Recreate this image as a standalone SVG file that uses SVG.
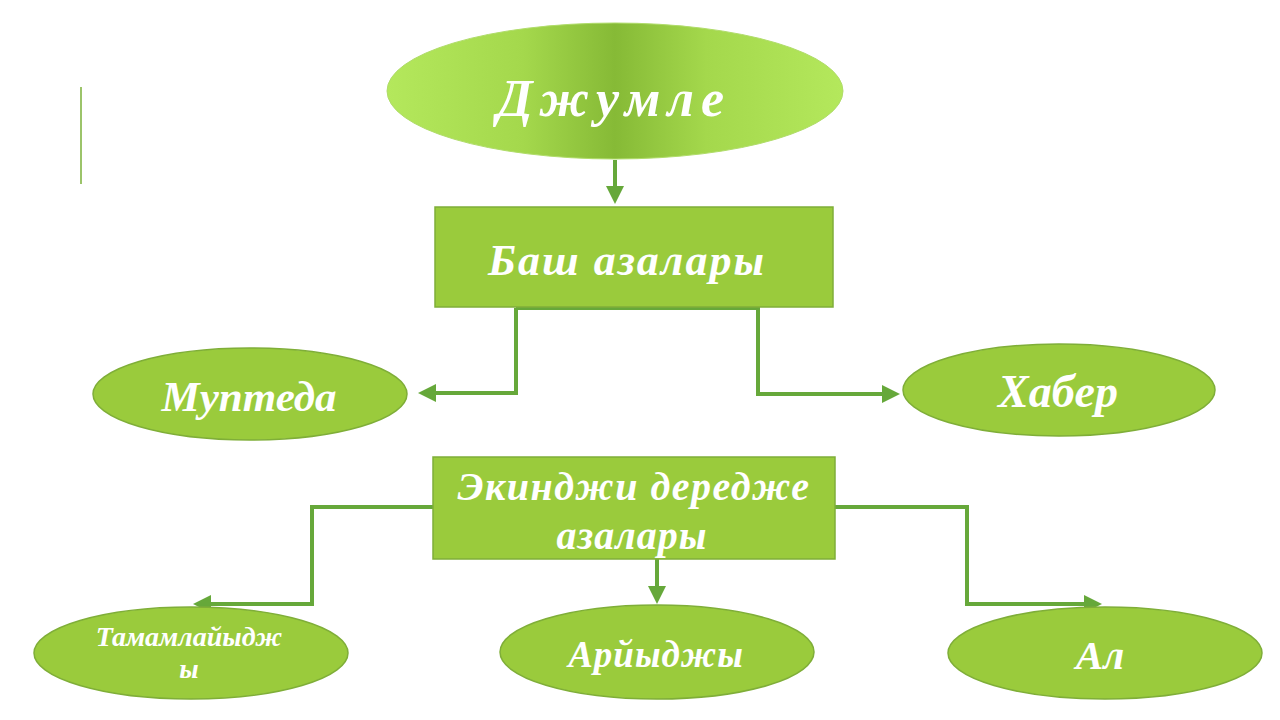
<svg xmlns="http://www.w3.org/2000/svg" width="1280" height="720" viewBox="0 0 1280 720">
<defs>
<linearGradient id="g1" x1="0" y1="0" x2="1" y2="0">
<stop offset="0" stop-color="#b4e85c"/>
<stop offset="0.3" stop-color="#a4d84c"/>
<stop offset="0.5" stop-color="#86ba36"/>
<stop offset="0.7" stop-color="#a4d84c"/>
<stop offset="1" stop-color="#b4e85c"/>
</linearGradient>
<marker id="ah" markerWidth="4.5" markerHeight="4.5" refX="3.5" refY="2.25" orient="auto" markerUnits="strokeWidth">
<path d="M0,0 L4.5,2.25 L0,4.5 z" fill="#66a83a"/>
</marker>
</defs>
<style>
.node{fill:#9acb3c;stroke:#7fae38;stroke-width:1.5}
.t{font-family:"Liberation Serif",serif;font-style:italic;font-weight:bold;fill:#ffffff;text-anchor:middle}
.c{fill:none;stroke:#66a83a;stroke-width:4;marker-end:url(#ah)}
</style>
<rect width="1280" height="720" fill="#ffffff"/>
<line x1="81" y1="87" x2="81" y2="184" stroke="#9cc46a" stroke-width="2"/>
<g id="connectors">
<path class="c" d="M615,160 V200"/>
<path class="c" d="M516,308 V393 H422"/>
<path class="c" d="M516,308 H758 V394 H896"/>
<path class="c" d="M433,507 H312 V604 H197"/>
<path class="c" d="M835,507 H967 V604 H1098"/>
<path class="c" d="M657,559 V600"/>
</g>
<g id="n-djumle">
<ellipse cx="615" cy="91" rx="228" ry="68" fill="url(#g1)" stroke="#b0dc6a" stroke-width="1"/>
<text class="t" x="614" y="116" font-size="52" letter-spacing="7">Джумле</text>
</g>
<g id="n-bash">
<rect class="node" x="435" y="207" width="398" height="100" stroke="none"/>
<text class="t" x="627" y="275" font-size="44" letter-spacing="2">Баш азалары</text>
</g>
<g id="n-muptada">
<ellipse class="node" cx="250" cy="394" rx="157" ry="46"/>
<text class="t" x="249" y="411" font-size="43">Муптеда</text>
</g>
<g id="n-haber">
<ellipse class="node" cx="1059" cy="390" rx="156" ry="46"/>
<text class="t" x="1058" y="407" font-size="46">Хабер</text>
</g>
<g id="n-ekindji">
<rect class="node" x="433" y="457" width="402" height="102"/>
<text class="t" x="634" y="500" font-size="40" letter-spacing="1.5">Экинджи дередже</text>
<text class="t" x="632" y="549" font-size="40" letter-spacing="1">азалары</text>
</g>
<g id="n-tamam">
<ellipse class="node" cx="191" cy="653" rx="157" ry="46"/>
<text class="t" x="189" y="646" font-size="28">Тамамлайыдж</text>
<text class="t" x="189" y="678" font-size="28">ы</text>
</g>
<g id="n-ariy">
<ellipse class="node" cx="657" cy="652" rx="157" ry="47"/>
<text class="t" x="656" y="667" font-size="37" letter-spacing="1">Арйыджы</text>
</g>
<g id="n-al">
<ellipse class="node" cx="1105" cy="653" rx="157" ry="46"/>
<text class="t" x="1100" y="669" font-size="41">Ал</text>
</g>
</svg>
